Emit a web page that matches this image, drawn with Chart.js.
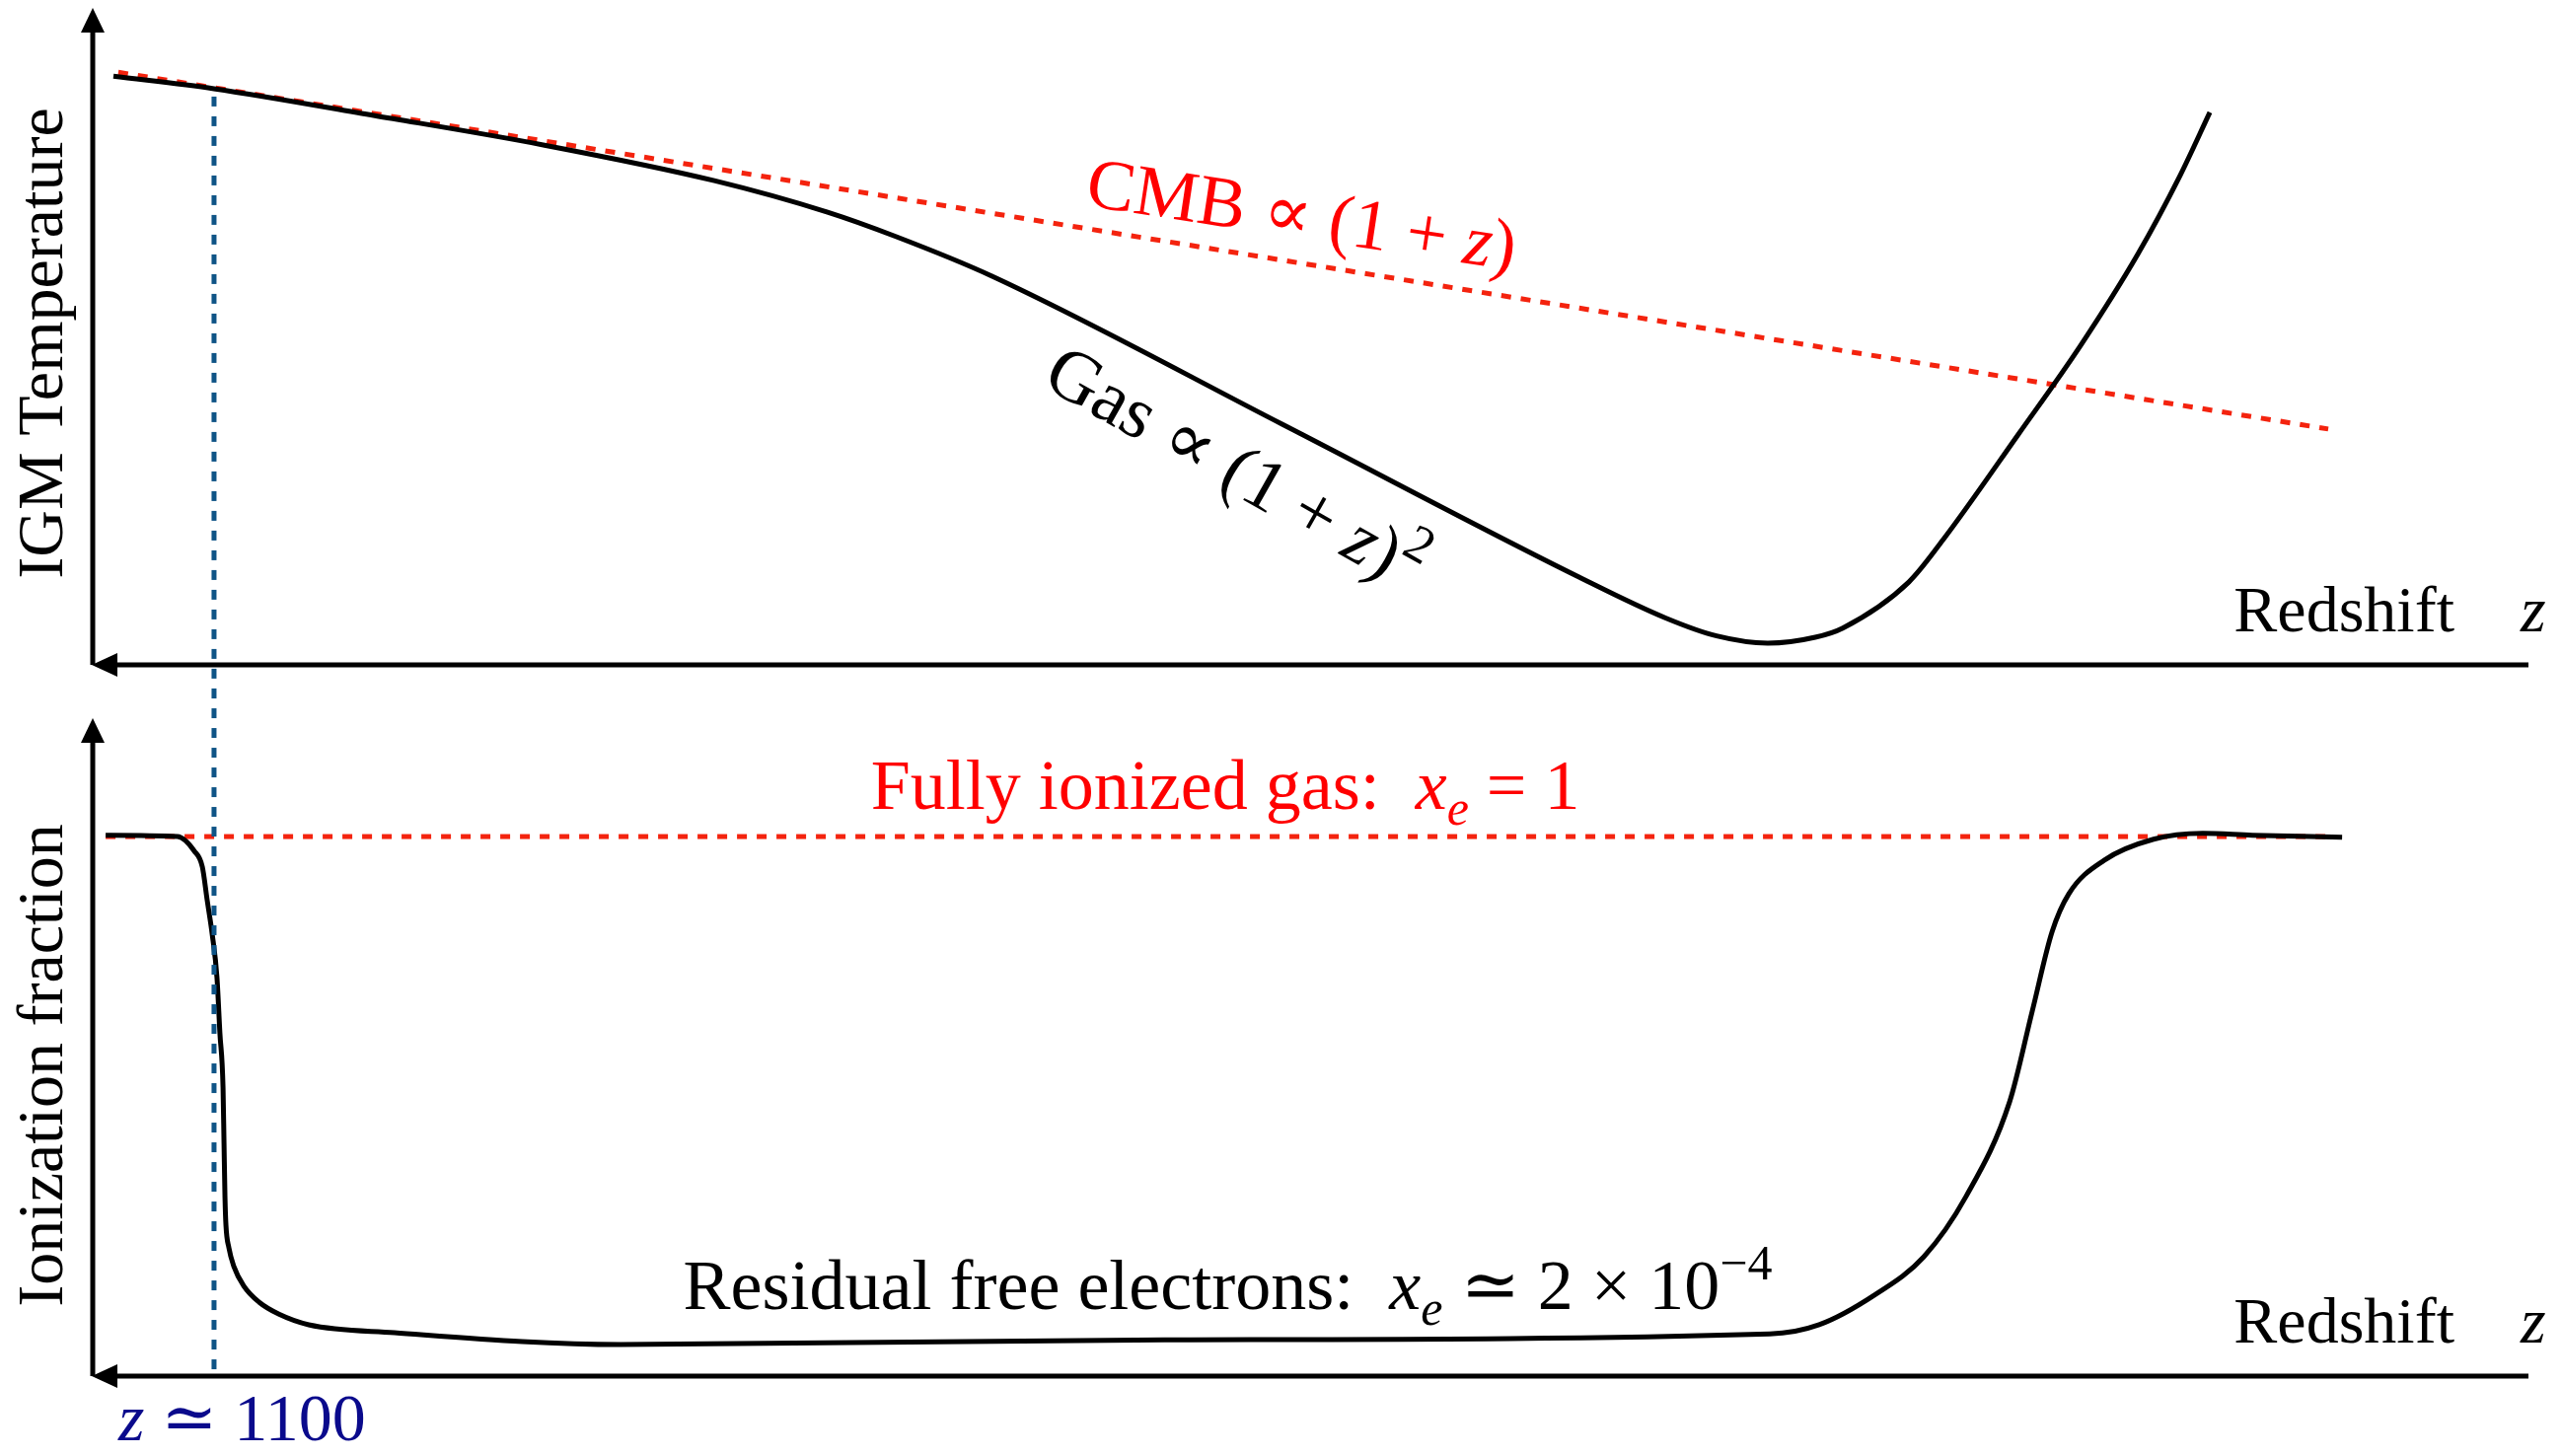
<!DOCTYPE html>
<html>
<head>
<meta charset="utf-8">
<script src="https://cdn.jsdelivr.net/npm/chart.js@4.4.1/dist/chart.umd.min.js"></script>
<style>
  html, body { margin: 0; padding: 0; background: #fff; }
  #wrap { position: relative; width: 2596px; height: 1476px; }
  canvas { position: absolute; left: 0; }
  #tempChart { top: 0; }
  #ionChart { top: 700px; }
</style>
</head>
<body>
<div id="wrap">
  <canvas id="tempChart" width="2596" height="700"></canvas>
  <canvas id="ionChart" width="2596" height="776"></canvas>
</div>
<script>
// schematic axis: x = position along the redshift axis (0 left .. 100 right), y = arbitrary units (0..100)
const gasX = [0.85, 4.98, 11.58, 18.55, 25.52, 30.17, 32.97, 36.90, 48.85, 61.00, 64.60, 66.67, 68.77, 70.72, 71.85, 74.56, 75.98, 79.06, 81.61, 83.96, 85.70, 86.92];
const gasT = [89.6, 87.7, 83.6, 79.1, 73.7, 68.9, 65.2, 59.2, 36.6, 13.4, 7.1, 4.4, 3.3, 4.2, 5.6, 12.6, 19.1, 35.1, 48.6, 62.5, 74.5, 84.1];
const cmbX = [1.05, 91.78];
const cmbT = [90.2, 35.9];

const ionX = [0.53, 3.48, 4.17, 4.50, 4.70, 4.90, 5.10, 5.22, 5.35, 5.39, 5.43, 5.47, 5.59, 5.79, 6.20, 6.84, 7.65, 8.87, 12.39, 21.67, 43.99, 68.85, 70.88, 73.15, 75.17, 76.91, 78.70, 79.63, 80.44, 81.13, 82.58, 84.61, 86.63, 88.66, 92.35];
const ionXe = [82.2, 82.0, 79.8, 77.4, 72.3, 67.3, 60.6, 52.2, 43.8, 35.4, 27.1, 22.9, 19.5, 16.7, 13.7, 11.2, 9.4, 7.8, 6.6, 4.8, 5.5, 6.4, 7.8, 12.3, 18.1, 27.3, 41.7, 55.5, 67.5, 73.3, 78.4, 81.6, 82.5, 82.2, 81.9];
const fullX = [0.53, 92.0];
const fullXe = [82.0, 82.0];

const zRec = 4.98; // z ~ 1100 marker
const recTop = [86.5, -4];
const recBot = [105, 1];

const SERIF = '"Liberation Serif", "DejaVu Serif", serif';
const RED_LINE = '#f4230e';
const RED_TEXT = '#ff0000';
const BLUE = '#0f5486';
const NAVY = '#0a0a8c';

const pts = (xs, ys) => xs.map((x, i) => ({ x, y: ys[i] }));

function drawRich(ctx, parts, x, y, opts) {
  const size = opts.size;
  const fontFor = (p) => `${p.it ? 'italic ' : ''}${(p.sup || p.sub) ? Math.round(size * 0.7) : size}px ${SERIF}`;
  let total = 0;
  const widths = parts.map((p) => {
    ctx.font = fontFor(p);
    const w = ctx.measureText(p.t).width;
    total += w;
    return w;
  });
  ctx.save();
  ctx.translate(x, y);
  ctx.rotate((opts.angle || 0) * Math.PI / 180);
  ctx.fillStyle = opts.color || '#000';
  ctx.textBaseline = 'alphabetic';
  ctx.textAlign = 'left';
  let cx = opts.align === 'center' ? -total / 2 : opts.align === 'right' ? -total : 0;
  parts.forEach((p, i) => {
    ctx.font = fontFor(p);
    const dy = p.sup ? -size * 0.42 : p.sub ? size * 0.22 : 0;
    ctx.fillText(p.t, cx, dy);
    cx += widths[i];
  });
  ctx.restore();
}

const arrowAxes = {
  id: 'arrowAxes',
  beforeDatasetsDraw(chart) {
    const { ctx, chartArea: a } = chart;
    ctx.save();
    ctx.strokeStyle = '#000';
    ctx.fillStyle = '#000';
    ctx.lineWidth = 5;
    ctx.beginPath();
    ctx.moveTo(a.left, a.top + 20);
    ctx.lineTo(a.left, a.bottom);
    ctx.moveTo(a.left + 20, a.bottom);
    ctx.lineTo(a.right, a.bottom);
    ctx.stroke();
    ctx.beginPath();
    ctx.moveTo(a.left, a.top);
    ctx.lineTo(a.left - 12, a.top + 25);
    ctx.lineTo(a.left + 12, a.top + 25);
    ctx.closePath();
    ctx.fill();
    ctx.beginPath();
    ctx.moveTo(a.left - 1, a.bottom);
    ctx.lineTo(a.left + 25, a.bottom - 12);
    ctx.lineTo(a.left + 25, a.bottom + 12);
    ctx.closePath();
    ctx.fill();
    ctx.restore();
  }
};

function redshiftLabel(chart) {
  const { ctx, chartArea: a } = chart;
  drawRich(ctx, [{ t: 'Redshift' }], a.right - 75, a.bottom - 34, { size: 66, align: 'right' });
  drawRich(ctx, [{ t: 'z', it: true }], a.right - 8, a.bottom - 34, { size: 66 });
}

const tempLabels = {
  id: 'tempLabels',
  afterDraw(chart) {
    const { ctx, scales: { x, y } } = chart;
    drawRich(ctx, [{ t: 'IGM Temperature' }], 63, 348, { size: 66, angle: -90, align: 'center' });
    redshiftLabel(chart);
    drawRich(ctx, [{ t: 'CMB \u221D (1 + ' }, { t: 'z', it: true }, { t: ')' }],
      x.getPixelForValue(49.5), y.getPixelForValue(65.0), { size: 73, angle: 8.6, align: 'center', color: RED_TEXT });
    drawRich(ctx, [{ t: 'Gas \u221D (1 + ' }, { t: 'z', it: true }, { t: ')' }, { t: '2', sup: true }],
      x.getPixelForValue(38.9), y.getPixelForValue(42.6), { size: 75, angle: 29.5 });
  }
};

const ionLabels = {
  id: 'ionLabels',
  afterDraw(chart) {
    const { ctx, chartArea: a, scales: { x, y } } = chart;
    drawRich(ctx, [{ t: 'Ionization fraction' }], 63, 380, { size: 66, angle: -90, align: 'center' });
    redshiftLabel(chart);
    drawRich(ctx, [{ t: 'Fully ionized gas:  ' }, { t: 'x', it: true }, { t: 'e', it: true, sub: true }, { t: ' = 1' }],
      x.getPixelForValue(46.5), y.getPixelForValue(86.2), { size: 72, align: 'center', color: RED_TEXT });
    drawRich(ctx, [{ t: 'Residual free electrons:  ' }, { t: 'x', it: true }, { t: 'e', it: true, sub: true }, { t: ' \u2243 2 \u00D7 10' }, { t: '\u22124', sup: true }],
      x.getPixelForValue(46.6), y.getPixelForValue(10.2), { size: 72, align: 'center' });
    drawRich(ctx, [{ t: 'z', it: true }, { t: ' \u2243 1100' }],
      x.getPixelForValue(1.05), a.bottom + 65, { size: 68, color: NAVY });
  }
};

function baseOptions(padding) {
  return {
    responsive: false,
    animation: false,
    devicePixelRatio: 1,
    layout: { padding },
    plugins: { legend: { display: false }, tooltip: { enabled: false } },
    elements: { point: { radius: 0 } },
    scales: {
      x: { type: 'linear', min: 0, max: 100, display: false },
      y: { min: 0, max: 100, display: false },
    },
  };
}

function recLine(ys, offset) {
  return {
    data: pts([zRec, zRec], ys),
    borderColor: BLUE,
    borderWidth: 5,
    borderDash: [10, 10],
    borderDashOffset: offset,
    clip: false,
  };
}

new Chart(document.getElementById('tempChart'), {
  type: 'line',
  data: {
    datasets: [
      recLine(recTop, 0),
      {
        data: pts(gasX, gasT),
        borderColor: '#000',
        borderWidth: 5,
        cubicInterpolationMode: 'monotone',
      },
      {
        data: pts(cmbX, cmbT),
        borderColor: RED_LINE,
        borderWidth: 5,
        borderDash: [10, 10],
      },
    ],
  },
  options: baseOptions({ left: 94, right: 33, top: 8, bottom: 26 }),
  plugins: [arrowAxes, tempLabels],
});

new Chart(document.getElementById('ionChart'), {
  type: 'line',
  data: {
    datasets: [
      recLine(recBot, 16.6),
      {
        data: pts(ionX, ionXe),
        borderColor: '#000',
        borderWidth: 5,
        cubicInterpolationMode: 'monotone',
      },
      {
        data: pts(fullX, fullXe),
        borderColor: RED_LINE,
        borderWidth: 5,
        borderDash: [10, 10],
      },
    ],
  },
  options: baseOptions({ left: 94, right: 33, top: 28, bottom: 81 }),
  plugins: [arrowAxes, ionLabels],
});
</script>
</body>
</html>
